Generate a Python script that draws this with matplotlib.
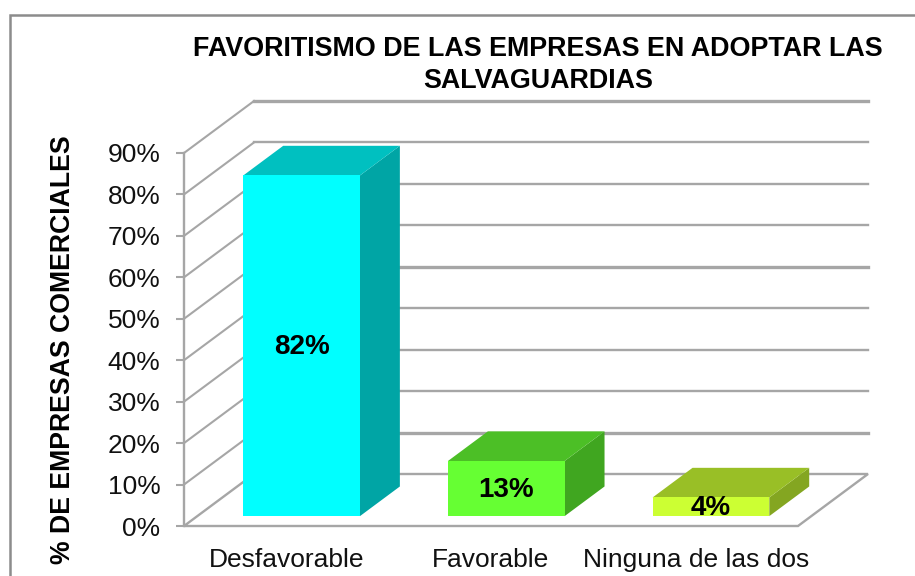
import matplotlib.pyplot as plt
from matplotlib.patches import Polygon, Rectangle

plt.rcParams['font.family'] = ['Liberation Sans', 'DejaVu Sans']

categories = ["Desfavorable", "Favorable", "Ninguna de las dos"]
values = [82.2, 13.3, 4.5]
value_labels = ["82%", "13%", "4%"]
yticks = [0, 10, 20, 30, 40, 50, 60, 70, 80, 90]
thick_ticks = [10, 50, 90]
front_colors = ["#00FFFF", "#66FF33", "#CCFF33"]
top_colors = ["#00C0C0", "#4CBF26", "#99BF26"]
side_colors = ["#00A5A5", "#40A620", "#84A621"]

W, H = 915, 576
fig = plt.figure(figsize=(W / 100, H / 100), dpi=100)

# axes box = front plane of the fake 3d chart, in pixels
left, right, bottom, top = 184, 798, 526, 153
ax = fig.add_axes([left / W, 1 - bottom / H, (right - left) / W, (bottom - top) / H])
ax.set_xlim(0, 3)
ax.set_ylim(0, 90)
ax.patch.set_visible(False)
for s in ax.spines.values():
    s.set_visible(False)

# depth offset in data units (full depth = 70px right, 52px up)
px_x = 3 / (right - left)
px_y = 90 / (bottom - top)
depth_x = 70 * px_x
depth_y = 52 * px_y
grid_color = "#A6A6A6"


def proj(x, y, d):
    # d = 0 front of chart, d = 1 back wall
    return (x + d * depth_x, y + d * depth_y)


# outer frame, runs off the right and bottom of the picture
fig.add_artist(Rectangle((9.5 / W, -0.1), 1.1, 1.1 - 15 / H, transform=fig.transFigure,
                         fill=False, edgecolor="#8C8C8C", linewidth=1.8))

# grid on side and back wall, some back lines are heavier in the original
for t in yticks:
    if t == 0:
        continue
    xs, ys = zip(proj(0, t, 0), proj(0, t, 1))
    ax.plot(xs, ys, color=grid_color, lw=1.5, clip_on=False, zorder=1)
    xs, ys = zip(proj(0, t, 1), proj(3, t, 1))
    lw = 2.4 if t in thick_ticks else 1.7
    ax.plot(xs, ys, color=grid_color, lw=lw, clip_on=False, zorder=1)

# floor outline
floor = [proj(0, 0, 0), proj(0, 0, 1), proj(3, 0, 1), proj(3, 0, 0)]
ax.add_patch(Polygon(floor, closed=True, facecolor="white", edgecolor=grid_color, lw=1.7,
                     clip_on=False, zorder=1.5))

# y axis line and ticks
ax.plot([0, 0], [0, 90], color=grid_color, lw=1.7, clip_on=False, zorder=2)
ax.set_yticks(yticks)
ax.set_yticklabels([str(t) + "%" for t in yticks], fontsize=19, color="#111111")
ax.tick_params(axis="y", length=6, width=1.5, color=grid_color, pad=11)
ax.set_xticks([i + 0.5 for i in range(len(categories))])
ax.set_xticklabels(categories, fontsize=19, color="#111111")
ax.tick_params(axis="x", length=0, pad=16)

# bars
bar_w = 0.57
d0, d1 = 0.19, 0.76
for i in range(len(values)):
    c = i + 0.5 + 2 * px_x
    x0 = c - bar_w / 2
    x1 = c + bar_w / 2
    v = values[i]
    front = [proj(x0, 0, d0), proj(x1, 0, d0), proj(x1, v, d0), proj(x0, v, d0)]
    side = [proj(x1, 0, d0), proj(x1, 0, d1), proj(x1, v, d1), proj(x1, v, d0)]
    topf = [proj(x0, v, d0), proj(x1, v, d0), proj(x1, v, d1), proj(x0, v, d1)]
    ax.add_patch(Polygon(side, closed=True, facecolor=side_colors[i], edgecolor="none", clip_on=False, zorder=3))
    ax.add_patch(Polygon(topf, closed=True, facecolor=top_colors[i], edgecolor="none", clip_on=False, zorder=3))
    ax.add_patch(Polygon(front, closed=True, facecolor=front_colors[i], edgecolor="none", clip_on=False, zorder=4))
    cx, cy = proj(c, v / 2, d0)
    ax.text(cx, cy - 1.5 * px_y, value_labels[i], ha="center", va="center", fontsize=20, fontweight="bold",
            color="black", zorder=5)

fig.text(538 / W, 1 - 65 / H, "FAVORITISMO DE LAS EMPRESAS EN ADOPTAR LAS\nSALVAGUARDIAS",
         ha="center", va="center", fontsize=19.4, fontweight="bold", color="black", linespacing=1.32)
fig.text(63 / W, 1 - 350 / H, "% DE EMPRESAS COMERCIALES", rotation=90, ha="center", va="center",
         fontsize=19.2, fontweight="bold", color="black")

fig.savefig("out.png", dpi=100)
